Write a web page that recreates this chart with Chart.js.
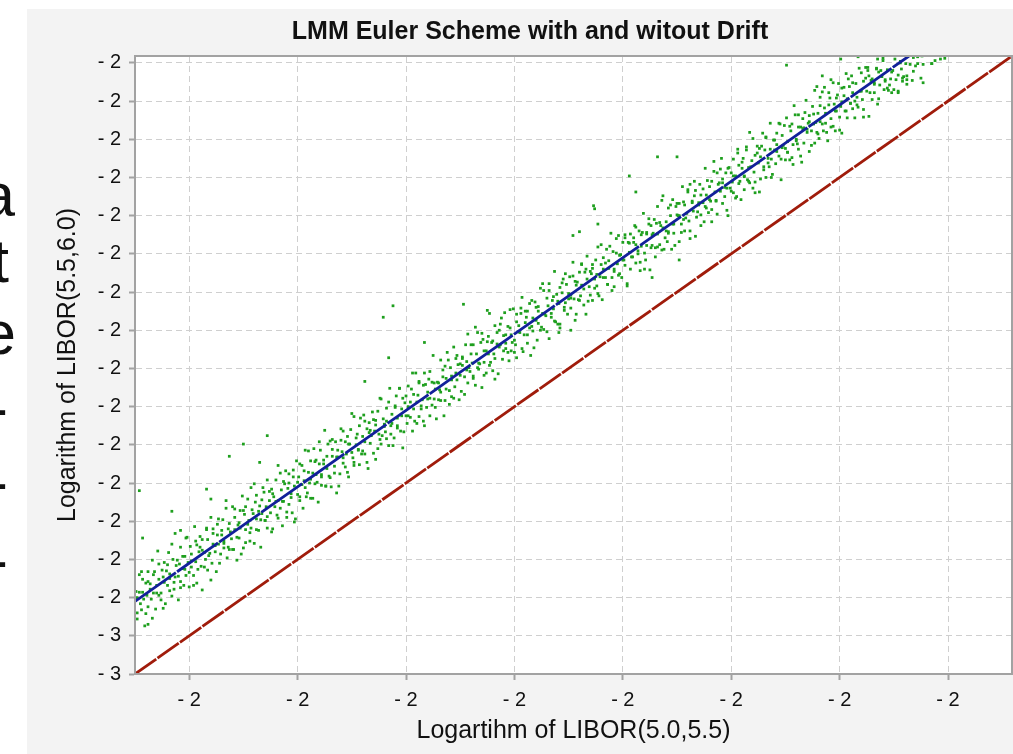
<!DOCTYPE html>
<html>
<head>
<meta charset="utf-8">
<script src="https://cdn.jsdelivr.net/npm/chart.js@4"></script>
<style>
html,body{margin:0;padding:0;width:1013px;height:754px;overflow:hidden;background:#fff;}
#panel{position:absolute;left:27px;top:9px;width:1006px;height:745px;background:#f3f3f3;}
#panel canvas{display:block;}
.frag{position:absolute;font-family:"Liberation Sans",Arial,sans-serif;font-size:62px;line-height:62px;color:#111;white-space:nowrap;}
</style>
</head>
<body>
<div class="frag" style="top:164px;right:998px">a</div>
<div class="frag" style="top:230px;right:1004px">t</div>
<div class="frag" style="top:302px;right:997px">e</div>
<div class="frag" style="top:377px;right:1005px">-</div>
<div class="frag" style="top:451px;right:1005px">-</div>
<div class="frag" style="top:529px;right:1005px">-</div>
<div id="panel"><canvas id="c" width="1006" height="745"></canvas></div>
<script>
const chartTitle = 'LMM Euler Scheme with and witout Drift';
const xAxisTitle = 'Logartihm of LIBOR(5.0,5.5)';
const yAxisTitle = 'Logarithm of LIBOR(5.5,6.0)';
const axisMin = -2.85;
const axisMax = -2.041;
const xTickValues = [-2.80,-2.70,-2.60,-2.50,-2.40,-2.30,-2.20,-2.10];
const xTickLabels = ['- 2','- 2','- 2','- 2','- 2','- 2','- 2','- 2'];
const yTickValues = [-2.85,-2.80,-2.75,-2.70,-2.65,-2.60,-2.55,-2.50,-2.45,-2.40,-2.35,-2.30,-2.25,-2.20,-2.15,-2.10,-2.05];
const yTickLabels = ['- 3','- 3','- 2','- 2','- 2','- 2','- 2','- 2','- 2','- 2','- 2','- 2','- 2','- 2','- 2','- 2','- 2'];
// line without drift (identity) and Euler line with drift
const noDriftX = [-2.85,-2.041];
const noDriftY = [-2.85,-2.041];
const driftX = [-2.85,-2.136];
const driftY = [-2.755,-2.041];
// simulated samples (x: log LIBOR(5.0,5.5), y: log LIBOR(5.5,6.0))
const simX = [
-2.849,-2.848,-2.848,-2.846,-2.845,-2.844,-2.843,-2.843,-2.841,-2.840,
-2.839,-2.838,-2.838,-2.836,-2.835,-2.834,-2.833,-2.833,-2.831,-2.830,
-2.829,-2.828,-2.828,-2.826,-2.825,-2.824,-2.823,-2.823,-2.821,-2.820,
-2.819,-2.818,-2.818,-2.816,-2.815,-2.814,-2.813,-2.813,-2.811,-2.810,
-2.809,-2.808,-2.808,-2.806,-2.805,-2.804,-2.803,-2.803,-2.801,-2.800,
-2.799,-2.798,-2.798,-2.796,-2.795,-2.794,-2.793,-2.793,-2.791,-2.790,
-2.789,-2.788,-2.788,-2.786,-2.785,-2.784,-2.783,-2.783,-2.781,-2.780,
-2.779,-2.778,-2.778,-2.776,-2.775,-2.774,-2.773,-2.773,-2.771,-2.770,
-2.769,-2.768,-2.768,-2.766,-2.765,-2.764,-2.763,-2.763,-2.761,-2.760,
-2.759,-2.758,-2.758,-2.756,-2.755,-2.754,-2.753,-2.753,-2.751,-2.750,
-2.749,-2.748,-2.748,-2.746,-2.745,-2.744,-2.743,-2.743,-2.741,-2.740,
-2.739,-2.738,-2.738,-2.736,-2.735,-2.734,-2.733,-2.733,-2.731,-2.730,
-2.729,-2.728,-2.728,-2.726,-2.725,-2.724,-2.723,-2.723,-2.721,-2.720,
-2.719,-2.718,-2.718,-2.716,-2.715,-2.714,-2.713,-2.713,-2.711,-2.710,
-2.709,-2.708,-2.708,-2.706,-2.705,-2.704,-2.703,-2.703,-2.701,-2.700,
-2.699,-2.698,-2.698,-2.696,-2.695,-2.694,-2.693,-2.693,-2.691,-2.690,
-2.689,-2.688,-2.688,-2.686,-2.685,-2.684,-2.683,-2.683,-2.681,-2.680,
-2.679,-2.678,-2.678,-2.676,-2.675,-2.674,-2.673,-2.673,-2.671,-2.670,
-2.669,-2.668,-2.668,-2.666,-2.665,-2.664,-2.663,-2.663,-2.661,-2.660,
-2.659,-2.658,-2.658,-2.656,-2.655,-2.654,-2.653,-2.653,-2.651,-2.650,
-2.649,-2.648,-2.648,-2.646,-2.645,-2.644,-2.643,-2.643,-2.641,-2.640,
-2.639,-2.638,-2.638,-2.636,-2.635,-2.634,-2.633,-2.633,-2.631,-2.630,
-2.629,-2.628,-2.628,-2.626,-2.625,-2.624,-2.623,-2.623,-2.621,-2.620,
-2.619,-2.618,-2.618,-2.616,-2.615,-2.614,-2.613,-2.613,-2.611,-2.610,
-2.609,-2.608,-2.608,-2.606,-2.605,-2.604,-2.603,-2.603,-2.601,-2.600,
-2.599,-2.598,-2.598,-2.596,-2.595,-2.594,-2.593,-2.593,-2.591,-2.590,
-2.589,-2.588,-2.588,-2.586,-2.585,-2.584,-2.583,-2.583,-2.581,-2.580,
-2.579,-2.578,-2.578,-2.576,-2.575,-2.574,-2.573,-2.573,-2.571,-2.570,
-2.569,-2.568,-2.568,-2.566,-2.565,-2.564,-2.563,-2.563,-2.561,-2.560,
-2.559,-2.558,-2.558,-2.556,-2.555,-2.554,-2.553,-2.553,-2.551,-2.550,
-2.549,-2.548,-2.548,-2.546,-2.545,-2.544,-2.543,-2.543,-2.541,-2.540,
-2.539,-2.538,-2.538,-2.536,-2.535,-2.534,-2.533,-2.533,-2.531,-2.530,
-2.529,-2.528,-2.528,-2.526,-2.525,-2.524,-2.523,-2.523,-2.521,-2.520,
-2.519,-2.518,-2.518,-2.516,-2.515,-2.514,-2.513,-2.513,-2.511,-2.510,
-2.509,-2.508,-2.508,-2.506,-2.505,-2.504,-2.503,-2.503,-2.501,-2.500,
-2.499,-2.498,-2.498,-2.496,-2.495,-2.494,-2.493,-2.493,-2.491,-2.490,
-2.489,-2.488,-2.488,-2.486,-2.485,-2.484,-2.483,-2.483,-2.481,-2.480,
-2.479,-2.478,-2.478,-2.476,-2.475,-2.474,-2.473,-2.473,-2.471,-2.470,
-2.469,-2.468,-2.468,-2.466,-2.465,-2.464,-2.463,-2.463,-2.461,-2.460,
-2.459,-2.458,-2.458,-2.456,-2.455,-2.454,-2.453,-2.453,-2.451,-2.450,
-2.449,-2.448,-2.448,-2.446,-2.445,-2.444,-2.443,-2.443,-2.441,-2.440,
-2.439,-2.438,-2.438,-2.436,-2.435,-2.434,-2.433,-2.433,-2.431,-2.430,
-2.429,-2.428,-2.428,-2.426,-2.425,-2.424,-2.423,-2.423,-2.421,-2.420,
-2.419,-2.418,-2.418,-2.416,-2.415,-2.414,-2.413,-2.413,-2.411,-2.410,
-2.409,-2.408,-2.408,-2.406,-2.405,-2.404,-2.403,-2.403,-2.401,-2.400,
-2.399,-2.398,-2.398,-2.396,-2.395,-2.394,-2.393,-2.393,-2.391,-2.390,
-2.389,-2.388,-2.388,-2.386,-2.385,-2.384,-2.383,-2.383,-2.381,-2.380,
-2.379,-2.378,-2.378,-2.376,-2.375,-2.374,-2.373,-2.373,-2.371,-2.370,
-2.369,-2.368,-2.368,-2.366,-2.365,-2.364,-2.363,-2.363,-2.361,-2.360,
-2.359,-2.358,-2.358,-2.356,-2.355,-2.354,-2.353,-2.353,-2.351,-2.350,
-2.349,-2.348,-2.348,-2.346,-2.345,-2.344,-2.343,-2.343,-2.341,-2.340,
-2.339,-2.338,-2.338,-2.336,-2.335,-2.334,-2.333,-2.333,-2.331,-2.330,
-2.329,-2.328,-2.328,-2.326,-2.325,-2.324,-2.323,-2.323,-2.321,-2.320,
-2.319,-2.318,-2.318,-2.316,-2.315,-2.314,-2.313,-2.313,-2.311,-2.310,
-2.309,-2.308,-2.308,-2.306,-2.305,-2.304,-2.303,-2.303,-2.301,-2.300,
-2.299,-2.298,-2.298,-2.296,-2.295,-2.294,-2.293,-2.293,-2.291,-2.290,
-2.289,-2.288,-2.288,-2.286,-2.285,-2.284,-2.283,-2.283,-2.281,-2.280,
-2.279,-2.278,-2.278,-2.276,-2.275,-2.274,-2.273,-2.273,-2.271,-2.270,
-2.269,-2.268,-2.268,-2.266,-2.265,-2.264,-2.263,-2.263,-2.261,-2.260,
-2.259,-2.258,-2.258,-2.256,-2.255,-2.254,-2.253,-2.253,-2.251,-2.250,
-2.249,-2.248,-2.248,-2.246,-2.245,-2.244,-2.243,-2.243,-2.241,-2.240,
-2.239,-2.238,-2.238,-2.236,-2.235,-2.234,-2.233,-2.233,-2.231,-2.230,
-2.229,-2.228,-2.228,-2.226,-2.225,-2.224,-2.223,-2.223,-2.221,-2.220,
-2.219,-2.218,-2.218,-2.216,-2.215,-2.214,-2.213,-2.213,-2.211,-2.210,
-2.209,-2.208,-2.208,-2.206,-2.205,-2.204,-2.203,-2.203,-2.201,-2.200,
-2.199,-2.198,-2.198,-2.196,-2.195,-2.194,-2.193,-2.193,-2.191,-2.190,
-2.189,-2.188,-2.188,-2.186,-2.185,-2.184,-2.183,-2.183,-2.181,-2.180,
-2.179,-2.178,-2.178,-2.176,-2.175,-2.174,-2.173,-2.173,-2.171,-2.170,
-2.168,-2.168,-2.166,-2.165,-2.164,-2.163,-2.161,-2.160,
-2.159,-2.158,-2.156,-2.155,-2.153,-2.151,-2.150,
-2.149,-2.148,-2.146,-2.144,-2.143,-2.141,
-2.139,-2.138,-2.135,-2.133,
-2.128,-2.128,-2.125,-2.123,
-2.115,-2.103,
-2.846,-2.816,-2.750,-2.763,-2.728,-2.808,-2.843,-2.838,-2.784,-2.780,
-2.735,-2.621,-2.612,-2.547,-2.525,-2.583,-2.616,-2.638,-2.427,-2.426,
-2.394,-2.388,-2.368,-2.350,-2.446,-2.440,-2.423,-2.459,-2.448,-2.373,
-2.348,-2.249,-2.216,-2.221,-2.123,-2.115,-2.107,-2.132,-2.199,-2.156,
-2.152,-2.146,-2.142,-2.138,-2.165,
-2.848,-2.846,-2.844,-2.842,-2.840,-2.838,-2.836,-2.834,-2.832,-2.830,
-2.828,-2.826,-2.824,-2.822,-2.820,-2.818,-2.816,-2.814,-2.812,-2.810,
-2.808,-2.806,-2.804,-2.802,-2.800,-2.798,-2.796,-2.794,-2.792,-2.790,
-2.788,-2.786,-2.784,-2.782,-2.780,-2.778,-2.776,-2.774,-2.772,-2.770,
-2.768,-2.766,-2.764,-2.762,-2.760,-2.758,-2.756,-2.754,-2.752,-2.750,
-2.748,-2.746,-2.744,-2.742,-2.740,-2.738,-2.736,-2.734,-2.732,-2.730,
-2.728,-2.726,-2.724,-2.722,-2.720,-2.718,-2.716,-2.714,-2.712,-2.710,
-2.708,-2.706,-2.704,-2.702,-2.700,-2.698,-2.696,-2.694,-2.692,-2.690,
-2.688,-2.686,-2.684,-2.682,-2.680,-2.678,-2.676,-2.674,-2.672,-2.670,
-2.668,-2.666,-2.664,-2.662,-2.660,-2.658,-2.656,-2.654,-2.652,-2.650,
-2.648,-2.646,-2.644,-2.642,-2.640,-2.638,-2.636,-2.634,-2.632,-2.630,
-2.628,-2.626,-2.624,-2.622,-2.620,-2.618,-2.616,-2.614,-2.612,-2.610,
-2.608,-2.606,-2.604,-2.602,-2.600,-2.598,-2.596,-2.594,-2.592,-2.590,
-2.588,-2.586,-2.584,-2.582,-2.580,-2.578,-2.576,-2.574,-2.572,-2.570,
-2.568,-2.566,-2.564,-2.562,-2.560,-2.558,-2.556,-2.554,-2.552,-2.550,
-2.548,-2.546,-2.544,-2.542,-2.540,-2.538,-2.536,-2.534,-2.532,-2.530,
-2.528,-2.526,-2.524,-2.522,-2.520,-2.518,-2.516,-2.514,-2.512,-2.510,
-2.508,-2.506,-2.504,-2.502,-2.500,-2.498,-2.496,-2.494,-2.492,-2.490,
-2.488,-2.486,-2.484,-2.482,-2.480,-2.478,-2.476,-2.474,-2.472,-2.470,
-2.468,-2.466,-2.464,-2.462,-2.460,-2.458,-2.456,-2.454,-2.452,-2.450,
-2.448,-2.446,-2.444,-2.442,-2.440,-2.438,-2.436,-2.434,-2.432,-2.430,
-2.428,-2.426,-2.424,-2.422,-2.420,-2.418,-2.416,-2.414,-2.412,-2.410,
-2.408,-2.406,-2.404,-2.402,-2.400,-2.398,-2.396,-2.394,-2.392,-2.390,
-2.388,-2.386,-2.384,-2.382,-2.380,-2.378,-2.376,-2.374,-2.372,-2.370,
-2.368,-2.366,-2.364,-2.362,-2.360,-2.358,-2.356,-2.354,-2.352,-2.350,
-2.348,-2.346,-2.344,-2.342,-2.340,-2.338,-2.336,-2.334,-2.332,-2.330,
-2.328,-2.326,-2.324,-2.322,-2.320,-2.318,-2.316,-2.314,-2.312,-2.310,
-2.308,-2.306,-2.304,-2.302,-2.300,-2.298,-2.296,-2.294,-2.292,-2.290,
-2.288,-2.286,-2.284,-2.282,-2.280,-2.278,-2.276,-2.274,-2.272,-2.270,
-2.268,-2.266,-2.264,-2.262,-2.260,-2.258,-2.256,-2.254,-2.252,-2.250,
-2.248,-2.246,-2.244,-2.242,-2.240,-2.238,-2.236,-2.234,-2.232,-2.230,
-2.228,-2.226,-2.224,-2.222,-2.220,-2.218,-2.216,-2.214,-2.212,-2.210,
-2.208,-2.206,-2.204,-2.202,-2.200,-2.198,-2.196,-2.194,-2.192,-2.190,
-2.188,-2.186,-2.184,-2.182,-2.180,-2.178,-2.176,-2.174,-2.172,-2.170,
-2.168,-2.166,-2.164,-2.162,-2.160,-2.158,-2.154,-2.152,
-2.146,-2.144,-2.142,-2.138,-2.132,-2.130,
-2.128,-2.124,-2.112
];
const simY = [
-2.742,-2.778,-2.750,-2.720,-2.758,-2.766,-2.726,-2.743,-2.787,-2.731,
-2.747,-2.716,-2.762,-2.732,-2.752,-2.701,-2.744,-2.720,-2.765,-2.734,
-2.689,-2.747,-2.726,-2.753,-2.714,-2.764,-2.704,-2.730,-2.715,-2.734,
-2.691,-2.741,-2.719,-2.748,-2.700,-2.730,-2.666,-2.723,-2.701,-2.753,
-2.706,-2.729,-2.684,-2.712,-2.734,-2.696,-2.672,-2.721,-2.704,-2.736,
-2.683,-2.710,-2.693,-2.721,-2.657,-2.703,-2.681,-2.731,-2.690,-2.670,
-2.709,-2.740,-2.674,-2.691,-2.700,-2.661,-2.714,-2.674,-2.692,-2.645,
-2.705,-2.680,-2.660,-2.690,-2.716,-2.668,-2.680,-2.647,-2.693,-2.668,
-2.648,-2.685,-2.676,-2.623,-2.698,-2.660,-2.653,-2.687,-2.673,-2.631,
-2.687,-2.661,-2.645,-2.701,-2.655,-2.672,-2.636,-2.659,-2.617,-2.685,
-2.641,-2.661,-2.678,-2.621,-2.649,-2.665,-2.606,-2.659,-2.640,-2.679,
-2.625,-2.647,-2.616,-2.662,-2.630,-2.684,-2.622,-2.640,-2.612,-2.649,
-2.631,-2.596,-2.659,-2.623,-2.639,-2.608,-2.660,-2.614,-2.631,-2.596,
-2.642,-2.623,-2.577,-2.633,-2.609,-2.656,-2.598,-2.624,-2.584,-2.638,
-2.607,-2.628,-2.588,-2.614,-2.639,-2.592,-2.604,-2.651,-2.571,-2.615,
-2.592,-2.623,-2.575,-2.602,-2.633,-2.584,-2.606,-2.557,-2.613,-2.586,
-2.600,-2.571,-2.620,-2.587,-2.555,-2.601,-2.589,-2.570,-2.625,-2.575,
-2.557,-2.592,-2.603,-2.575,-2.531,-2.604,-2.565,-2.581,-2.591,-2.545,
-2.605,-2.565,-2.556,-2.578,-2.546,-2.613,-2.566,-2.557,-2.588,-2.529,
-2.559,-2.574,-2.532,-2.579,-2.562,-2.539,-2.592,-2.549,-2.530,-2.560,
-2.567,-2.513,-2.577,-2.550,-2.536,-2.557,-2.576,-2.525,-2.562,-2.539,
-2.511,-2.546,-2.562,-2.529,-2.581,-2.521,-2.531,-2.548,-2.507,-2.561,
-2.532,-2.518,-2.569,-2.506,-2.536,-2.543,-2.490,-2.549,-2.516,-2.526,
-2.533,-2.502,-2.519,-2.551,-2.476,-2.536,-2.510,-2.522,-2.541,-2.499,
-2.486,-2.525,-2.515,-2.476,-2.532,-2.503,-2.489,-2.554,-2.495,-2.512,
-2.522,-2.473,-2.500,-2.514,-2.477,-2.532,-2.503,-2.484,-2.456,-2.522,
-2.485,-2.513,-2.467,-2.499,-2.491,-2.472,-2.525,-2.456,-2.501,-2.481,
-2.464,-2.489,-2.512,-2.468,-2.433,-2.490,-2.477,-2.501,-2.468,-2.491,
-2.478,-2.439,-2.492,-2.461,-2.512,-2.447,-2.477,-2.463,-2.439,-2.497,
-2.449,-2.465,-2.487,-2.422,-2.474,-2.456,-2.465,-2.433,-2.491,-2.444,
-2.480,-2.446,-2.435,-2.461,-2.419,-2.452,-2.469,-2.405,-2.454,-2.431,
-2.443,-2.460,-2.419,-2.472,-2.431,-2.403,-2.451,-2.443,-2.416,-2.475,
-2.412,-2.442,-2.427,-2.456,-2.415,-2.431,-2.378,-2.446,-2.416,-2.453,
-2.431,-2.394,-2.437,-2.418,-2.457,-2.400,-2.419,-2.392,-2.438,-2.407,
-2.377,-2.424,-2.417,-2.395,-2.440,-2.397,-2.427,-2.406,-2.372,-2.413,
-2.419,-2.379,-2.436,-2.394,-2.403,-2.378,-2.424,-2.357,-2.406,-2.390,
-2.383,-2.417,-2.375,-2.397,-2.433,-2.361,-2.401,-2.384,-2.363,-2.387,
-2.413,-2.369,-2.391,-2.345,-2.396,-2.378,-2.399,-2.348,-2.381,-2.358,
-2.368,-2.411,-2.348,-2.383,-2.361,-2.372,-2.323,-2.388,-2.353,-2.392,
-2.365,-2.344,-2.397,-2.351,-2.333,-2.374,-2.364,-2.326,-2.379,-2.352,
-2.330,-2.358,-2.371,-2.311,-2.359,-2.336,-2.379,-2.341,-2.360,-2.324,
-2.355,-2.341,-2.314,-2.367,-2.324,-2.379,-2.333,-2.303,-2.343,-2.354,
-2.326,-2.361,-2.319,-2.333,-2.308,-2.342,-2.291,-2.352,-2.330,-2.314,
-2.360,-2.305,-2.320,-2.331,-2.294,-2.340,-2.309,-2.319,-2.273,-2.331,
-2.297,-2.320,-2.343,-2.299,-2.313,-2.276,-2.326,-2.302,-2.331,-2.285,
-2.308,-2.275,-2.315,-2.339,-2.285,-2.298,-2.320,-2.274,-2.304,-2.285,
-2.263,-2.312,-2.288,-2.300,-2.270,-2.322,-2.275,-2.290,-2.247,-2.299,
-2.308,-2.274,-2.289,-2.254,-2.321,-2.263,-2.289,-2.275,-2.255,-2.304,
-2.260,-2.274,-2.238,-2.288,-2.263,-2.295,-2.266,-2.224,-2.279,-2.270,
-2.284,-2.240,-2.271,-2.250,-2.294,-2.229,-2.261,-2.273,-2.238,-2.249,
-2.250,-2.284,-2.234,-2.261,-2.212,-2.255,-2.270,-2.236,-2.247,-2.219,
-2.257,-2.209,-2.270,-2.233,-2.244,-2.224,-2.277,-2.217,-2.245,-2.233,
-2.209,-2.249,-2.223,-2.233,-2.258,-2.188,-2.240,-2.223,-2.246,-2.212,
-2.231,-2.205,-2.258,-2.192,-2.219,-2.230,-2.194,-2.248,-2.207,-2.218,
-2.175,-2.234,-2.207,-2.225,-2.194,-2.214,-2.250,-2.188,-2.214,-2.194,
-2.206,-2.176,-2.220,-2.198,-2.225,-2.163,-2.208,-2.184,-2.229,-2.188,
-2.175,-2.199,-2.216,-2.160,-2.203,-2.187,-2.141,-2.207,-2.178,-2.214,
-2.193,-2.171,-2.220,-2.159,-2.181,-2.162,-2.202,-2.173,-2.142,-2.190,
-2.164,-2.200,-2.147,-2.175,-2.186,-2.129,-2.176,-2.200,-2.151,-2.164,
-2.182,-2.157,-2.142,-2.172,-2.130,-2.203,-2.145,-2.161,-2.132,-2.162,
-2.122,-2.167,-2.153,-2.177,-2.139,-2.130,-2.157,-2.183,-2.118,-2.150,
-2.156,-2.118,-2.163,-2.134,-2.180,-2.123,-2.135,-2.155,-2.099,-2.137,
-2.129,-2.166,-2.119,-2.139,-2.107,-2.130,-2.155,-2.086,-2.141,-2.116,
-2.149,-2.106,-2.127,-2.088,-2.139,-2.109,-2.129,-2.116,-2.152,-2.089,
-2.096,-2.123,-2.072,-2.133,-2.104,-2.139,-2.096,-2.113,-2.077,-2.121,
-2.107,-2.142,-2.083,-2.093,-2.113,-2.064,-2.122,-2.097,-2.081,-2.103,
-2.067,-2.110,-2.089,-2.122,-2.077,-2.095,-2.042,-2.108,-2.087,-2.063,
-2.098,-2.074,-2.111,-2.056,-2.087,-2.060,-2.120,-2.067,-2.073,-2.098,
-2.078,-2.089,-2.057,-2.104,-2.062,-2.079,-2.068,-2.047,
-2.085,-2.072,-2.059,-2.086,-2.071,-2.060,-2.085,
-2.045,-2.072,-2.089,-2.050,-2.058,-2.068,
-2.051,-2.072,-2.052,-2.073,
-2.041,-2.051,-2.070,-2.052,
-2.051,-2.044,
-2.610,-2.637,-2.549,-2.565,-2.538,-2.662,-2.672,-2.785,-2.608,-2.621,
-2.573,-2.383,-2.368,-2.366,-2.374,-2.416,-2.436,-2.467,-2.237,-2.241,
-2.198,-2.219,-2.173,-2.173,-2.276,-2.271,-2.261,-2.403,-2.400,-2.331,
-2.308,-2.053,-2.067,-2.081,-2.076,-2.051,-2.045,-2.061,-2.045,-2.083,
-2.089,-2.087,-2.074,-2.067,-2.045,
-2.770,-2.743,-2.716,-2.752,-2.771,-2.729,-2.739,-2.777,-2.716,-2.744,
-2.706,-2.744,-2.723,-2.758,-2.707,-2.725,-2.680,-2.739,-2.708,-2.722,
-2.737,-2.696,-2.713,-2.671,-2.717,-2.702,-2.734,-2.676,-2.713,-2.684,
-2.688,-2.710,-2.659,-2.695,-2.727,-2.666,-2.682,-2.654,-2.705,-2.662,
-2.679,-2.633,-2.684,-2.664,-2.687,-2.634,-2.671,-2.652,-2.693,-2.636,
-2.631,-2.654,-2.676,-2.635,-2.601,-2.661,-2.637,-2.648,-2.606,-2.649,
-2.644,-2.611,-2.664,-2.618,-2.624,-2.646,-2.587,-2.624,-2.601,-2.645,
-2.600,-2.619,-2.583,-2.647,-2.599,-2.618,-2.577,-2.597,-2.618,-2.558,
-2.595,-2.620,-2.572,-2.599,-2.546,-2.589,-2.570,-2.604,-2.549,-2.593,
-2.543,-2.587,-2.566,-2.604,-2.544,-2.567,-2.546,-2.586,-2.549,-2.509,
-2.573,-2.541,-2.556,-2.515,-2.558,-2.519,-2.573,-2.534,-2.538,-2.517,
-2.524,-2.555,-2.489,-2.538,-2.523,-2.542,-2.494,-2.525,-2.551,-2.501,
-2.528,-2.476,-2.512,-2.533,-2.486,-2.512,-2.494,-2.456,-2.519,-2.494,
-2.469,-2.503,-2.519,-2.471,-2.490,-2.454,-2.498,-2.469,-2.516,-2.469,
-2.481,-2.452,-2.492,-2.429,-2.479,-2.460,-2.489,-2.437,-2.445,-2.459,
-2.437,-2.484,-2.441,-2.449,-2.419,-2.463,-2.396,-2.449,-2.444,-2.404,
-2.459,-2.427,-2.408,-2.442,-2.414,-2.464,-2.403,-2.422,-2.384,-2.427,
-2.406,-2.429,-2.373,-2.416,-2.429,-2.389,-2.402,-2.371,-2.428,-2.375,
-2.406,-2.365,-2.395,-2.423,-2.370,-2.375,-2.400,-2.339,-2.379,-2.402,
-2.339,-2.378,-2.356,-2.389,-2.362,-2.392,-2.338,-2.370,-2.340,-2.359,
-2.354,-2.329,-2.387,-2.337,-2.361,-2.313,-2.346,-2.320,-2.362,-2.323,
-2.314,-2.345,-2.327,-2.355,-2.288,-2.331,-2.312,-2.340,-2.290,-2.348,
-2.323,-2.280,-2.328,-2.301,-2.308,-2.279,-2.342,-2.286,-2.304,-2.279,
-2.265,-2.296,-2.311,-2.272,-2.320,-2.272,-2.261,-2.292,-2.273,-2.292,
-2.291,-2.259,-2.230,-2.294,-2.258,-2.273,-2.236,-2.261,-2.289,-2.234,
-2.250,-2.272,-2.232,-2.253,-2.216,-2.280,-2.231,-2.205,-2.252,-2.236,
-2.263,-2.215,-2.238,-2.204,-2.229,-2.242,-2.179,-2.231,-2.209,-2.189,
-2.202,-2.213,-2.243,-2.187,-2.218,-2.198,-2.227,-2.168,-2.205,-2.180,
-2.198,-2.164,-2.205,-2.186,-2.149,-2.206,-2.168,-2.219,-2.159,-2.186,
-2.148,-2.181,-2.163,-2.196,-2.151,-2.166,-2.129,-2.176,-2.158,-2.177,
-2.167,-2.133,-2.174,-2.106,-2.152,-2.134,-2.172,-2.136,-2.115,-2.141,
-2.127,-2.158,-2.117,-2.128,-2.143,-2.095,-2.130,-2.082,-2.141,-2.105,
-2.134,-2.076,-2.113,-2.092,-2.138,-2.101,-2.082,-2.113,-2.071,-2.103,
-2.076,-2.100,-2.105,-2.057,-2.087,-2.121,-2.070,-2.056,-2.089,-2.071,
-2.076,-2.058,-2.097,-2.060,-2.044,-2.074,-2.079,-2.062,
-2.066,-2.048,-2.070,-2.078,-2.043,-2.054,
-2.042,-2.041,-2.047
];

const FONT = "'Liberation Sans', Arial, Helvetica, sans-serif";
const pairs = (xs, ys) => xs.map((x, i) => ({x: x, y: ys[i]}));

const plotFrame = {
  id: 'plotFrame',
  beforeDraw(chart) {
    const {ctx, chartArea: a} = chart;
    ctx.save();
    ctx.fillStyle = '#ffffff';
    ctx.fillRect(a.left, a.top, a.right - a.left, a.bottom - a.top);
    ctx.restore();
  },
  afterDatasetsDraw(chart) {
    const {ctx, chartArea: a} = chart;
    ctx.save();
    ctx.strokeStyle = '#a2a2a2';
    ctx.lineWidth = 2;
    ctx.strokeRect(a.left, a.top, a.right - a.left, a.bottom - a.top);
    ctx.restore();
  }
};

new Chart(document.getElementById('c'), {
  type: 'scatter',
  data: {
    datasets: [
      {
        label: 'With drift',
        data: pairs(driftX, driftY),
        showLine: true,
        borderColor: '#12209a',
        borderWidth: 2.8,
        borderDash: [50, 1.5],
        pointRadius: 0,
        fill: false
      },
      {
        label: 'Without drift',
        data: pairs(noDriftX, noDriftY),
        showLine: true,
        borderColor: '#a01c0b',
        borderWidth: 2.8,
        borderDash: [26, 1.5],
        pointRadius: 0,
        fill: false
      },
      {
        label: 'Simulated',
        data: pairs(simX, simY),
        showLine: false,
        pointStyle: 'rect',
        pointRadius: 1.95,
        pointBorderWidth: 0,
        pointBackgroundColor: '#1e9f1e',
        backgroundColor: '#1e9f1e',
        borderColor: '#1e9f1e'
      }
    ]
  },
  options: {
    responsive: false,
    animation: false,
    events: [],
    layout: {padding: {left: 21, right: 21, top: 0, bottom: 0}},
    plugins: {
      legend: {display: false},
      tooltip: {enabled: false},
      title: {
        display: true,
        text: chartTitle,
        color: '#111',
        font: {family: FONT, size: 25, weight: 'bold'},
        padding: {top: 8, bottom: 9}
      }
    },
    scales: {
      x: {
        type: 'linear',
        position: 'bottom',
        min: axisMin,
        max: axisMax,
        afterBuildTicks: s => { s.ticks = xTickValues.map(v => ({value: v})); },
        afterFit: s => { s.height = 80; },
        ticks: {
          autoSkip: false, maxRotation: 0, minRotation: 0, padding: 8,
          color: '#111', font: {family: FONT, size: 20},
          callback: (v, i) => xTickLabels[i]
        },
        grid: {color: '#cfcfcf', lineWidth: 1, tickLength: 6, tickColor: '#a2a2a2', tickWidth: 2},
        border: {display: true, color: '#a2a2a2', width: 2, dash: [6, 4]},
        title: {display: true, text: xAxisTitle, color: '#111', font: {family: FONT, size: 25}, padding: {top: 0, bottom: 7.5}}
      },
      y: {
        type: 'linear',
        position: 'left',
        min: axisMin,
        max: axisMax,
        afterBuildTicks: s => { s.ticks = yTickValues.map(v => ({value: v})); },
        afterFit: s => { s.width = 87; },
        ticks: {
          autoSkip: false, padding: 8,
          color: '#111', font: {family: FONT, size: 20},
          callback: (v, i) => yTickLabels[i]
        },
        grid: {color: '#cfcfcf', lineWidth: 1, tickLength: 6, tickColor: '#a2a2a2', tickWidth: 2},
        border: {display: true, color: '#a2a2a2', width: 2, dash: [6, 4]},
        title: {display: true, text: yAxisTitle, color: '#111', font: {family: FONT, size: 25}, padding: {top: 5, bottom: 0}}
      }
    }
  },
  plugins: [plotFrame]
});
</script>
</body>
</html>
